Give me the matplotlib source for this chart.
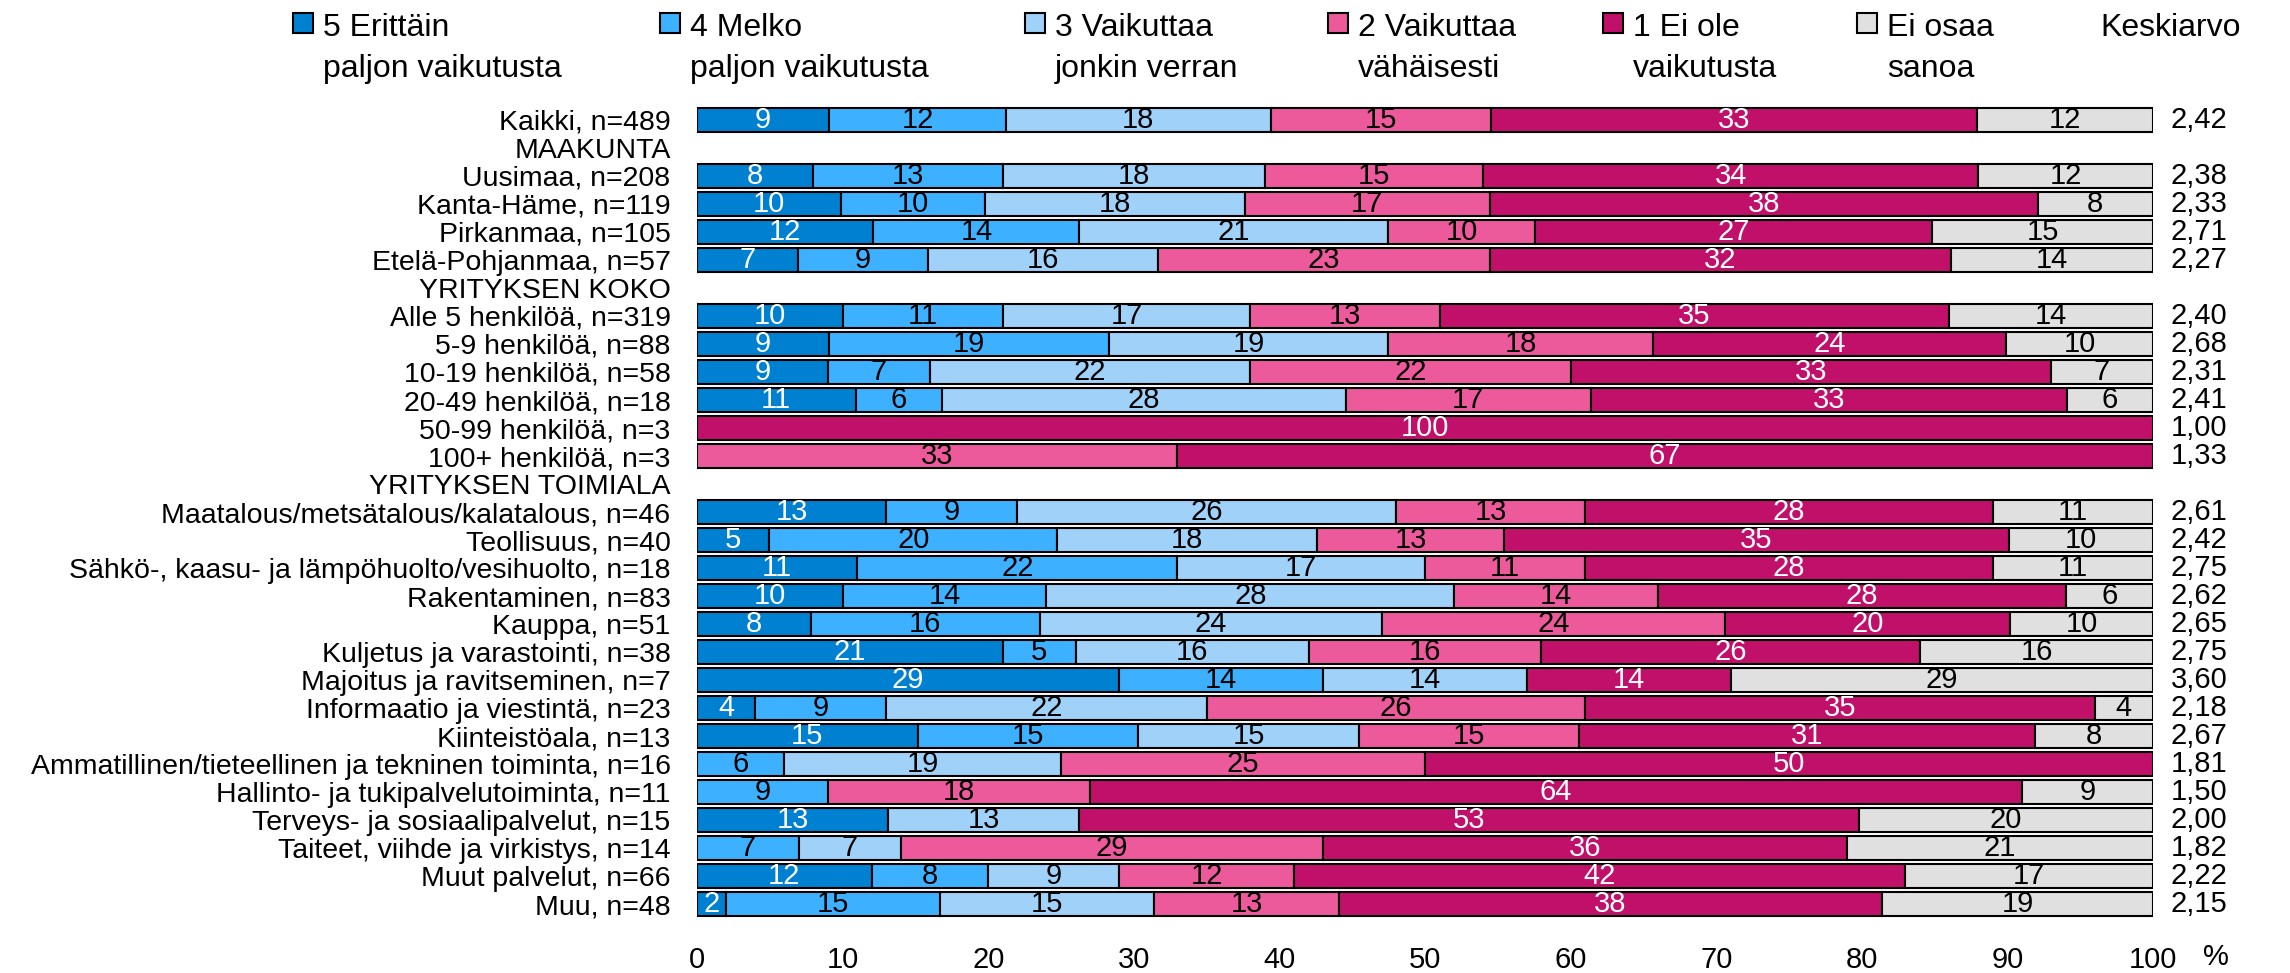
import numpy as np
import matplotlib
matplotlib.use("Agg")
import matplotlib.pyplot as plt
from matplotlib.patches import Rectangle

plt.rcParams['font.family'] = ['Liberation Sans', 'DejaVu Sans']

# Row labels, top to bottom (section headers have no bar)
labels = [
    "Kaikki, n=489",
    "MAAKUNTA",
    "Uusimaa, n=208",
    "Kanta-Häme, n=119",
    "Pirkanmaa, n=105",
    "Etelä-Pohjanmaa, n=57",
    "YRITYKSEN KOKO",
    "Alle 5 henkilöä, n=319",
    "5-9 henkilöä, n=88",
    "10-19 henkilöä, n=58",
    "20-49 henkilöä, n=18",
    "50-99 henkilöä, n=3",
    "100+ henkilöä, n=3",
    "YRITYKSEN TOIMIALA",
    "Maatalous/metsätalous/kalatalous, n=46",
    "Teollisuus, n=40",
    "Sähkö-, kaasu- ja lämpöhuolto/vesihuolto, n=18",
    "Rakentaminen, n=83",
    "Kauppa, n=51",
    "Kuljetus ja varastointi, n=38",
    "Majoitus ja ravitseminen, n=7",
    "Informaatio ja viestintä, n=23",
    "Kiinteistöala, n=13",
    "Ammatillinen/tieteellinen ja tekninen toiminta, n=16",
    "Hallinto- ja tukipalvelutoiminta, n=11",
    "Terveys- ja sosiaalipalvelut, n=15",
    "Taiteet, viihde ja virkistys, n=14",
    "Muut palvelut, n=66",
    "Muu, n=48",
]

# Percent shares per answer option (None = header row)
s5 = [9, None, 8, 10, 12, 7, None, 10, 9, 9, 11, 0, 0, None,
      13, 5, 11, 10, 8, 21, 29, 4, 15, 0, 0, 13, 0, 12, 2]
s4 = [12, None, 13, 10, 14, 9, None, 11, 19, 7, 6, 0, 0, None,
      9, 20, 22, 14, 16, 5, 14, 9, 15, 6, 9, 0, 7, 8, 15]
s3 = [18, None, 18, 18, 21, 16, None, 17, 19, 22, 28, 0, 0, None,
      26, 18, 17, 28, 24, 16, 14, 22, 15, 19, 0, 13, 7, 9, 15]
s2 = [15, None, 15, 17, 10, 23, None, 13, 18, 22, 17, 0, 33, None,
      13, 13, 11, 14, 24, 16, 0, 26, 15, 25, 18, 0, 29, 12, 13]
s1 = [33, None, 34, 38, 27, 32, None, 35, 24, 33, 33, 100, 67, None,
      28, 35, 28, 28, 20, 26, 14, 35, 31, 50, 64, 53, 36, 42, 38]
eos = [12, None, 12, 8, 15, 14, None, 14, 10, 7, 6, 0, 0, None,
       11, 10, 11, 6, 10, 16, 29, 4, 8, 0, 9, 20, 21, 17, 19]

keskiarvo = [2.42, None, 2.38, 2.33, 2.71, 2.27, None, 2.40, 2.68, 2.31, 2.41, 1.00, 1.33, None,
             2.61, 2.42, 2.75, 2.62, 2.65, 2.75, 3.60, 2.18, 2.67, 1.81, 1.50, 2.00, 1.82, 2.22, 2.15]

series_names = [("5 Erittäin", "paljon vaikutusta"), ("4 Melko", "paljon vaikutusta"),
                ("3 Vaikuttaa", "jonkin verran"), ("2 Vaikuttaa", "vähäisesti"),
                ("1 Ei ole", "vaikutusta"), ("Ei osaa", "sanoa")]
colors = ["#0080D0", "#3DB1FF", "#9FD1F9", "#EC5A9C", "#C1106A", "#E0E0E0"]
text_colors = ["white", "black", "black", "black", "white", "black"]

W, H = 2290, 973
fig = plt.figure(figsize=(W / 100, H / 100), dpi=100)
ax = fig.add_axes([697 / W, 1 - 918 / H, (2153 - 697) / W, 812 / H])

series = [s5, s4, s3, s2, s1, eos]
n = len(labels)
ypos = np.arange(n)
data = np.array([[np.nan if v is None else v for v in s] for s in series], dtype=float)
totals = np.nansum(data, axis=0)
totals[totals == 0] = 1
widths = data / totals * 100

left = np.zeros(n)
FS = 21
for k in range(len(series)):
    w = widths[k]
    mask = ~np.isnan(w) & (w > 0)
    ax.barh(ypos[mask], w[mask], left=left[mask], height=0.84, color=colors[k],
            edgecolor="black", linewidth=1.5)
    for i in np.where(mask)[0]:
        ax.text(left[i] + w[i] / 2, ypos[i], f"{int(data[k, i])}", ha="center", va="center",
                color=text_colors[k], fontsize=FS)
    left[mask] += w[mask]

# average score column
for i, m in enumerate(keskiarvo):
    if m is not None:
        ax.text(101.2, ypos[i], f"{m:.2f}".replace(".", ","), ha="left", va="center",
                fontsize=FS, clip_on=False)

ax.set_xlim(0, 100)
ax.set_ylim(n - 0.5, -0.5)
ax.set_yticks(ypos)
ax.set_yticklabels(labels, fontsize=20.5)
ax.set_xticks(np.arange(0, 101, 10))
ax.set_xticklabels([str(t) for t in range(0, 101, 10)], fontsize=FS)
ax.tick_params(axis="x", length=0, pad=20)
ax.tick_params(axis="y", length=0, pad=19)
for sp in ax.spines.values():
    sp.set_visible(False)

fig.text(2203 / W, 1 - 957 / H, "%", ha="left", va="center", fontsize=FS)

# legend across the top, two lines per entry
leg_x = [293, 660, 1025, 1328, 1603, 1857]
for x, (line1, line2), c in zip(leg_x, series_names, colors):
    fig.patches.append(Rectangle((x / W, 1 - 33 / H), 20 / W, 20 / H, transform=fig.transFigure,
                                 facecolor=c, edgecolor="black", linewidth=1.5))
    fig.text((x + 30) / W, 1 - 36 / H, line1, ha="left", va="baseline", fontsize=23)
    fig.text((x + 30) / W, 1 - 77 / H, line2, ha="left", va="baseline", fontsize=23)
fig.text(2100 / W, 1 - 36 / H, "Keskiarvo", ha="left", va="baseline", fontsize=23)

fig.savefig("out.png", dpi=100)
